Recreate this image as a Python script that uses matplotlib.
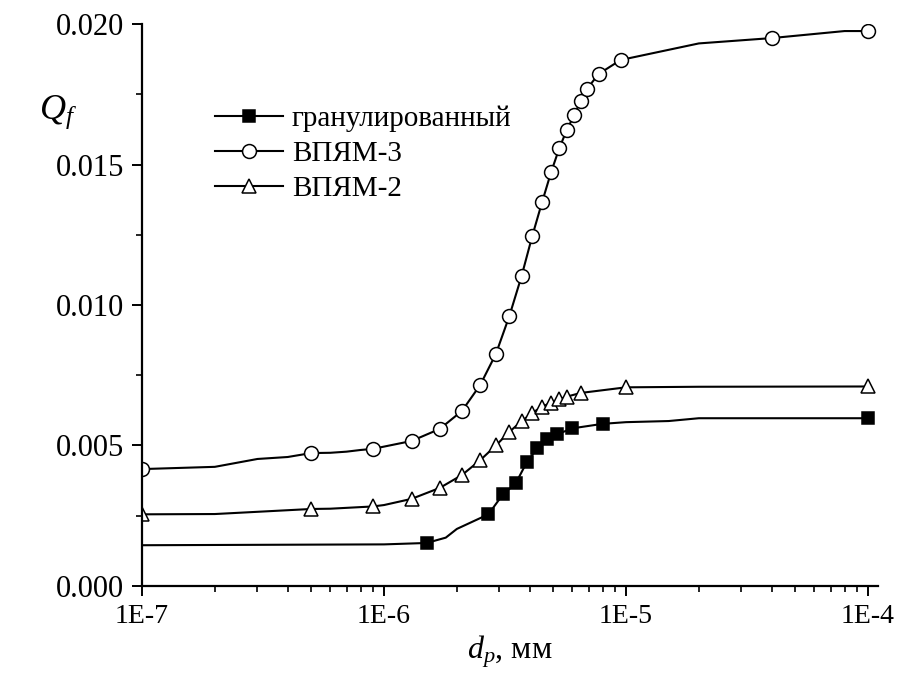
import matplotlib
matplotlib.use("Agg")
import matplotlib.pyplot as plt
from matplotlib.ticker import LogLocator, FixedLocator, FixedFormatter, MultipleLocator, NullFormatter

plt.rcParams['font.family'] = ['Liberation Serif', 'DejaVu Serif']
plt.rcParams['mathtext.fontset'] = 'custom'
plt.rcParams['mathtext.rm'] = 'Liberation Serif'
plt.rcParams['mathtext.it'] = 'Liberation Serif:italic'

# particle diameter d_p, mm
gran_d = [1e-7, 1e-6, 1.5e-6, 1.8e-6, 2e-6, 2.7e-6, 3.1e-6, 3.5e-6, 3.9e-6, 4.3e-6,
          4.7e-6, 5.2e-6, 6e-6, 8e-6, 1e-5, 1.5e-5, 2e-5, 1e-4]
gran_q = [0.00145, 0.00148, 0.00153, 0.00172, 0.00203, 0.00255, 0.00326, 0.00365, 0.00442, 0.00490,
          0.00522, 0.00540, 0.00561, 0.00577, 0.00583, 0.00587, 0.00597, 0.00597]
gran_marks = [2, 5, 6, 7, 8, 9, 10, 11, 12, 13, 17]

v3_d = [1e-7, 2e-7, 3e-7, 4e-7, 5e-7, 6e-7, 7e-7, 8e-7, 9e-7, 1e-6,
        1.3e-6, 1.7e-6, 2.1e-6, 2.5e-6, 2.9e-6, 3.3e-6, 3.7e-6, 4.1e-6, 4.5e-6, 4.9e-6,
        5.3e-6, 5.7e-6, 6.1e-6, 6.5e-6, 6.9e-6, 7.7e-6, 9.5e-6, 2e-5, 4e-5, 8e-5, 1e-4]
v3_q = [0.00416, 0.00424, 0.00452, 0.00459, 0.00473, 0.00474, 0.00478, 0.00484, 0.00488, 0.00496,
        0.00516, 0.00559, 0.00623, 0.00716, 0.00826, 0.00962, 0.01102, 0.01246, 0.01366, 0.01472,
        0.01558, 0.01624, 0.01675, 0.01727, 0.01769, 0.01822, 0.01872, 0.01931, 0.01950, 0.01975, 0.01975]
v3_marks = [0, 4, 8] + list(range(10, 27)) + [28, 30]

v2_d = [1e-7, 2e-7, 5e-7, 6e-7, 9e-7, 1e-6, 1.3e-6, 1.7e-6, 2.1e-6, 2.5e-6, 2.9e-6,
        3.3e-6, 3.7e-6, 4.1e-6, 4.5e-6, 4.9e-6, 5.3e-6, 5.7e-6, 6.5e-6, 1e-5, 2e-5, 1e-4]
v2_q = [0.00255, 0.00256, 0.00274, 0.00275, 0.00283, 0.00288, 0.00310, 0.00349, 0.00395, 0.00448, 0.00500,
        0.00549, 0.00586, 0.00616, 0.00638, 0.00652, 0.00665, 0.00674, 0.00687, 0.00707, 0.00709, 0.00710]
v2_marks = [0, 2, 4] + list(range(6, 20)) + [21]

series_labels = ['гранулированный', 'ВПЯМ-3', 'ВПЯМ-2']
x_tick_values = [1e-7, 1e-6, 1e-5, 1e-4]
x_tick_labels = ['1E-7', '1E-6', '1E-5', '1E-4']
y_tick_values = [0.000, 0.005, 0.010, 0.015, 0.020]
y_tick_labels = ['0.000', '0.005', '0.010', '0.015', '0.020']

fig = plt.figure(figsize=(9.01, 6.75), dpi=100)
ax = fig.add_axes([0.1576, 0.1319, 0.8169, 0.8325])

lw = 1.5
mew = 1.1
ax.plot(gran_d, gran_q, '-', color='black', lw=lw, marker='s', markersize=9,
        markerfacecolor='black', markeredgecolor='black', markeredgewidth=mew,
        markevery=gran_marks, label=series_labels[0])
ax.plot(v3_d, v3_q, '-', color='black', lw=lw, marker='o', markersize=10,
        markerfacecolor='white', markeredgecolor='black', markeredgewidth=mew,
        markevery=v3_marks, label=series_labels[1])
ax.plot(v2_d, v2_q, '-', color='black', lw=lw, marker='^', markersize=10.5,
        markerfacecolor='white', markeredgecolor='black', markeredgewidth=mew,
        markevery=v2_marks, label=series_labels[2])

ax.set_xscale('log')
ax.set_xlim(1e-7, 1.1e-4)
ax.set_ylim(0.0, 0.020)

ax.xaxis.set_major_locator(FixedLocator(x_tick_values))
ax.xaxis.set_major_formatter(FixedFormatter(x_tick_labels))
ax.xaxis.set_minor_locator(LogLocator(base=10, subs=range(2, 10)))
ax.xaxis.set_minor_formatter(NullFormatter())
ax.yaxis.set_major_locator(FixedLocator(y_tick_values))
ax.yaxis.set_major_formatter(FixedFormatter(y_tick_labels))
ax.yaxis.set_minor_locator(MultipleLocator(0.0025))

for side in ('top', 'right'):
    ax.spines[side].set_visible(False)
for side in ('left', 'bottom'):
    ax.spines[side].set_linewidth(1.6)

ax.tick_params(which='major', direction='out', length=7, width=1.4, pad=6)
ax.tick_params(which='minor', direction='out', length=4, width=1.2)
ax.tick_params(axis='x', which='major', labelsize=20)
ax.tick_params(axis='y', which='major', labelsize=22)

fig.text(0.064, 0.834, r'$Q_f$', fontsize=26, ha='center', va='center')
fig.text(0.566, 0.025, r'$d_p$, мм', fontsize=23, ha='center', va='baseline')

leg = ax.legend(loc='upper left', bbox_to_anchor=(0.0992, 0.855), frameon=False,
                fontsize=21, numpoints=1, handlelength=2.33, handletextpad=0.31,
                labelspacing=0.30, borderpad=0, borderaxespad=0)

fig.savefig('out.png', dpi=100)
